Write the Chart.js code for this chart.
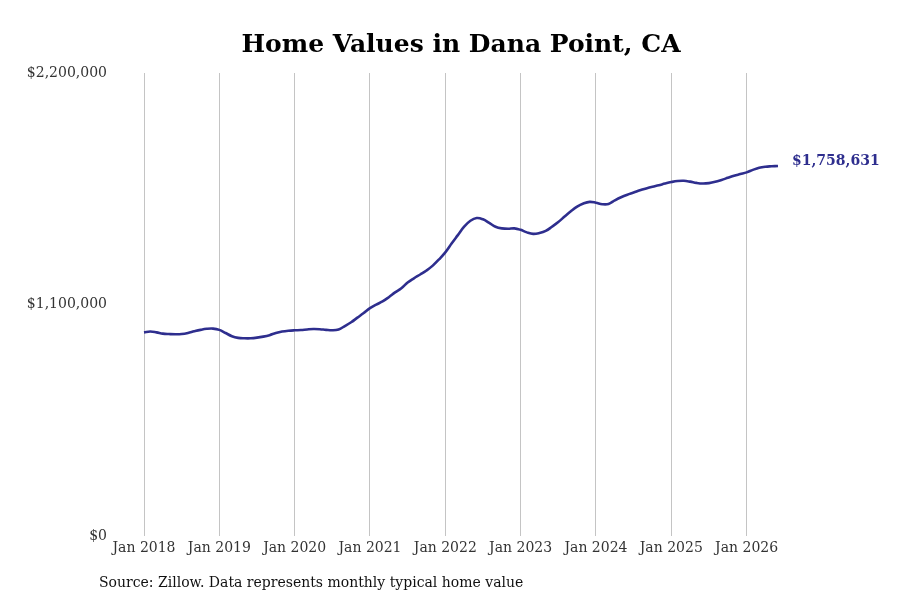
<!DOCTYPE html>
<html>
<head>
<meta charset="utf-8">
<script src="https://cdn.jsdelivr.net/npm/chart.js@4/dist/chart.umd.min.js"></script>
<style>
  html, body { margin: 0; padding: 0; background: #fff; }
  #wrap { position: relative; width: 900px; height: 600px; }
  #source {
    position: absolute; left: 99px; top: 574px;
    font: 14px "DejaVu Serif", serif; color: #111;
  }
</style>
</head>
<body>
<div id="wrap">
  <canvas id="chart" width="900" height="600"></canvas>
  <div id="source">Source: Zillow. Data represents monthly typical home value</div>
</div>
<script>
// --- Data: monthly typical home value, Jan 2018 .. Jun 2026 ---
const startYear = 2018;
const monthNames = ['Jan','Feb','Mar','Apr','May','Jun','Jul','Aug','Sep','Oct','Nov','Dec'];

const values = [
  // 2018
  968000, 972000, 968000, 962000, 960000, 959000, 960000, 965000, 973000, 980000, 985000, 986000,
  // 2019
  980000, 965000, 950000, 942000, 940000, 940000, 943000, 948000, 955000, 965000, 972000, 976000,
  // 2020
  978000, 979000, 982000, 984000, 983000, 980000, 978000, 982000, 998000, 1016000, 1038000, 1060000,
  // 2021
  1083000, 1100000, 1115000, 1135000, 1158000, 1178000, 1205000, 1225000, 1243000, 1262000, 1285000, 1315000,
  // 2022
  1348000, 1390000, 1430000, 1470000, 1498000, 1511000, 1505000, 1488000, 1470000, 1462000, 1460000, 1462000,
  // 2023
  1455000, 1443000, 1436000, 1440000, 1450000, 1470000, 1492000, 1518000, 1543000, 1565000, 1580000, 1588000,
  // 2024
  1584000, 1577000, 1578000, 1595000, 1610000, 1622000, 1632000, 1643000, 1652000, 1660000, 1667000, 1675000,
  // 2025
  1682000, 1687000, 1688000, 1684000, 1678000, 1675000, 1677000, 1683000, 1692000, 1702000, 1712000, 1720000,
  // 2026
  1728000, 1740000, 1750000, 1755000, 1757000, 1758631
];

const labels = values.map((_, i) => `${monthNames[i % 12]} ${startYear + Math.floor(i / 12)}`);
const yTicks = [0, 1100000, 2200000];

const lineColor = '#2e2e8e';
const gridColor = '#c4c4c4';
const textColor = '#333';
const serif = '"DejaVu Serif", serif';

const money = v => '$' + Math.round(v).toLocaleString('en-US');

new Chart(document.getElementById('chart'), {
  type: 'line',
  data: {
    labels,
    datasets: [{
      data: values,
      borderColor: lineColor,
      borderWidth: 2.6,
      pointRadius: 0,
      tension: 0.4,
      fill: false,
    }]
  },
  options: {
    responsive: false,
    animation: false,
    layout: { padding: { top: 0, right: 122, bottom: 39, left: 0 } },
    plugins: {
      legend: { display: false },
      tooltip: { enabled: false },
      title: {
        display: true,
        fullSize: false,
        text: 'Home Values in Dana Point, CA',
        color: '#000',
        font: { family: serif, size: 25, weight: 'bold' },
        padding: { top: 30, bottom: 13 }
      }
    },
    scales: {
      x: {
        type: 'category',
        offset: false,
        border: { display: false },
        grid: {
          drawTicks: false,
          color: ctx => (ctx.index % 12 === 0 ? gridColor : 'transparent'),
          lineWidth: 1
        },
        ticks: {
          autoSkip: false,
          maxRotation: 0,
          minRotation: 0,
          padding: 4,
          color: textColor,
          font: { family: serif, size: 14 },
          callback: (v, i) => (i % 12 === 0 ? labels[i] : '')
        }
      },
      y: {
        min: 0,
        max: 2200000,
        border: { display: false },
        grid: { display: false, drawTicks: false },
        afterBuildTicks: axis => { axis.ticks = yTicks.map(v => ({ value: v })); },
        afterFit: axis => { axis.width = 144; },
        ticks: {
          padding: 37,
          color: textColor,
          font: { family: serif, size: 14 },
          callback: v => money(v)
        }
      }
    }
  },
  plugins: [{
    id: 'endLabel',
    afterDatasetsDraw(chart) {
      const { ctx } = chart;
      const meta = chart.getDatasetMeta(0);
      const last = meta.data[meta.data.length - 1];
      const v = values[values.length - 1];
      ctx.save();
      ctx.font = `bold 14px ${serif}`;
      ctx.fillStyle = lineColor;
      ctx.textAlign = 'left';
      ctx.textBaseline = 'middle';
      ctx.fillText(money(v), last.x + 14, last.y - 5);
      ctx.restore();
    }
  }]
});
</script>
</body>
</html>
